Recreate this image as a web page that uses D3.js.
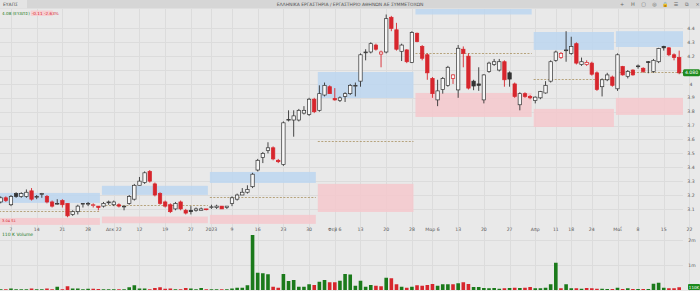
<!DOCTYPE html>
<html><head><meta charset="utf-8">
<script src="https://cdn.jsdelivr.net/npm/d3@7"></script>
<style>html,body{margin:0;padding:0;background:#e9e9e9;overflow:hidden}svg{display:block;font-family:"DejaVu Sans",sans-serif}</style>
</head><body><svg id="c" width="700" height="291"></svg>
<script>
// ---------- DATA ----------
const firstDay = "2022-11-03";
const lastAxisDay = "2023-05-22";
const holidays = ["2022-12-26","2023-01-06","2023-02-27","2023-04-07","2023-04-10","2023-04-14","2023-04-17","2023-05-01"];

const open  = [3.15,3.18,3.13,3.21,3.19,3.19,3.23,3.19,3.21,3.19,3.15,3.14,3.16,3.14,3.06,3.08,3.14,3.14,3.13,3.12,3.12,3.15,3.13,3.13,3.12,3.14,3.17,3.27,3.29,3.37,3.28,3.21,3.15,3.13,
3.10,3.15,3.09,3.09,3.09,3.09,3.10,3.11,3.11,3.12,3.11,3.14,3.17,3.20,3.22,3.26,3.38,3.47,3.52,3.54,3.45,3.42,3.74,3.74,3.74,3.79,3.78,3.89,3.81,3.92,3.98,3.895,3.88,3.91,
3.93,3.99,4.02,4.23,4.23,4.28,4.215,4.23,4.48,4.39,4.235,4.245,4.155,4.365,4.27,4.21,4.04,3.885,3.96,3.99,4.04,3.957,4.25,4.20,4.02,4.0,3.885,4.09,4.14,4.10,4.16,4.08,4.0,3.85,
3.93,3.91,3.88,3.90,3.935,4.02,4.17,4.19,4.24,4.22,4.29,4.14,4.14,4.15,4.08,3.98,4.03,4.05,3.965,4.125,4.055,4.10,4.13,4.113,4.16,4.09,4.16,4.27,4.26,4.21,4.19];
const high  = [3.19,3.19,3.20,3.22,3.22,3.24,3.25,3.20,3.215,3.20,3.16,3.17,3.17,3.14,3.09,3.13,3.14,3.15,3.14,3.12,3.15,3.16,3.16,3.14,3.12,3.20,3.28,3.33,3.37,3.38,3.29,3.22,3.16,3.14,
3.15,3.16,3.10,3.12,3.11,3.11,3.10,3.13,3.13,3.12,3.12,3.19,3.21,3.25,3.27,3.36,3.46,3.51,3.58,3.55,3.46,3.73,3.81,3.81,3.82,3.84,3.90,3.90,3.99,4.01,3.99,3.97,3.91,3.94,
4.00,4.01,4.22,4.25,4.30,4.29,4.24,4.50,4.49,4.44,4.29,4.25,4.38,4.37,4.28,4.22,4.05,4.03,4.05,4.13,4.07,4.28,4.27,4.22,4.03,4.12,4.07,4.16,4.18,4.18,4.17,4.09,4.01,3.94,
3.94,3.92,3.91,3.95,4.02,4.17,4.24,4.23,4.38,4.34,4.30,4.19,4.17,4.16,4.09,4.04,4.08,4.06,4.22,4.13,4.10,4.105,4.14,4.12,4.165,4.18,4.26,4.275,4.265,4.22,4.24];
const low   = [3.14,3.15,3.12,3.18,3.18,3.18,3.16,3.17,3.18,3.14,3.11,3.13,3.11,3.04,3.05,3.06,3.11,3.12,3.11,3.09,3.11,3.13,3.12,3.11,3.09,3.13,3.16,3.27,3.28,3.29,3.19,3.13,3.11,3.07,
3.09,3.09,3.06,3.06,3.08,3.09,3.09,3.10,3.10,3.10,3.10,3.12,3.16,3.20,3.21,3.25,3.37,3.43,3.50,3.45,3.43,3.41,3.73,3.62,3.73,3.78,3.77,3.79,3.80,3.91,3.93,3.88,3.87,3.87,
3.92,3.91,3.98,4.17,4.22,4.24,4.12,4.22,4.38,4.24,4.165,4.15,4.15,4.30,4.17,4.03,3.90,3.84,3.93,3.98,4.0,3.90,4.12,3.96,3.955,3.95,3.86,4.08,4.13,4.09,3.98,3.98,3.90,3.81,
3.90,3.89,3.86,3.89,3.93,4.01,4.16,4.18,4.16,4.21,4.14,4.13,4.13,4.06,3.95,3.91,4.02,3.98,3.95,4.06,4.04,4.06,4.11,4.08,4.077,4.08,4.15,4.24,4.20,4.17,4.07];
const close = [3.18,3.16,3.19,3.19,3.21,3.22,3.17,3.19,3.21,3.15,3.12,3.14,3.13,3.05,3.08,3.12,3.14,3.14,3.13,3.11,3.14,3.15,3.15,3.12,3.12,3.19,3.27,3.30,3.36,3.30,3.20,3.14,3.12,3.08,
3.14,3.10,3.07,3.08,3.10,3.10,3.095,3.115,3.12,3.10,3.12,3.18,3.20,3.22,3.24,3.35,3.45,3.50,3.54,3.46,3.44,3.72,3.745,3.77,3.81,3.81,3.89,3.80,3.93,3.99,3.93,3.885,3.90,3.93,
3.99,3.99,4.21,4.23,4.29,4.25,4.23,4.47,4.40,4.25,4.28,4.16,4.37,4.305,4.185,4.08,3.93,3.95,4.04,4.12,4.065,4.257,4.22,3.97,3.985,3.99,4.065,4.15,4.16,4.16,4.03,4.035,3.91,3.93,
3.91,3.90,3.905,3.945,3.99,4.16,4.23,4.22,4.245,4.27,4.15,4.16,4.155,4.07,3.96,4.03,4.065,3.99,4.21,4.065,4.09,4.065,4.13,4.09,4.155,4.17,4.255,4.26,4.21,4.19,4.08];
// volume in thousands of shares
const volume = [30,30,60,30,30,30,60,30,30,60,30,130,30,150,60,60,30,50,50,40,30,30,30,30,30,110,190,60,60,30,80,110,50,60,
30,30,80,60,30,80,30,30,30,30,30,60,90,90,190,2200,690,670,630,130,90,640,360,400,130,130,230,200,330,400,310,310,370,640,
620,170,370,130,200,170,150,490,470,230,130,90,130,190,170,200,240,170,230,230,230,270,310,240,120,120,80,70,80,50,70,80,90,80,
90,120,70,70,90,230,1090,70,230,70,70,50,80,70,50,50,40,40,90,40,70,40,40,40,40,250,290,90,70,70,110];

const priceTicks = [3.1,3.2,3.3,3.4,3.5,3.6,3.7,3.8,3.9,4.0,4.1,4.2,4.3,4.4];
const volumeTicks = [1000,2000];
const volumeTickLabels = ["1m","2m"];
const dateTickDays = ["2022-11-07","2022-11-14","2022-11-21","2022-11-28","2022-12-05","2022-12-12","2022-12-19","2022-12-27","2023-01-02","2023-01-09","2023-01-16","2023-01-23","2023-01-30","2023-02-06","2023-02-13","2023-02-20","2023-02-28","2023-03-06","2023-03-13","2023-03-20","2023-03-27","2023-04-03","2023-04-11","2023-04-18","2023-04-24","2023-05-02","2023-05-08","2023-05-15","2023-05-22"];
const dateTickLabels = ["7","14","21","28","Δεκ 22","12","19","27","2023","9","16","23","30","Φεβ 6","13","20","28","Μαρ 6","13","20","27","Απρ","11","18","24","Μαΐ","8","15","22"];

// monthly zones
const zoneFrom = ["2022-11-03","2022-12-01","2023-01-02","2023-02-01","2023-03-01","2023-04-03","2023-05-02"];
const zoneTo   = ["2022-11-30","2022-12-30","2023-01-31","2023-02-28","2023-03-31","2023-04-28","2023-05-19"];
const zoneUpperHi = [3.215,3.266,3.366,4.086,4.56,4.374,4.38];
const zoneUpperLo = [3.143,3.201,3.287,3.899,4.50,4.245,4.266];
const zoneLowerHi = [3.035,3.045,3.057,3.28,3.935,3.82,3.90];
const zoneLowerLo = [2.985,2.997,2.992,3.078,3.762,3.69,3.777];
const zonePivot   = [3.086,3.129,3.186,3.59,4.223,4.036,4.086];

// ---------- BUILD CATEGORIES ----------
const fmt = d3.utcFormat("%Y-%m-%d");
const axisDays = d3.utcDays(new Date(firstDay+"T00:00Z"), d3.utcDay.offset(new Date(lastAxisDay+"T00:00Z"),1))
  .filter(d => d.getUTCDay()!==0 && d.getUTCDay()!==6 && !holidays.includes(fmt(d))).map(fmt);
const days = axisDays.slice(0, close.length);
const data = days.map((d,i)=>({d, o:open[i], h:high[i], l:low[i], c:close[i], v:volume[i], pc: i?close[i-1]:open[i]}));

// ---------- LAYOUT ----------
const W=700,H=291, plotR=683, pTop=9, pBot=225, vTop=232, vBot=290;
const svg=d3.select("#c");
const x=d3.scalePoint().domain(axisDays).range([0.7, 0.7+(axisDays.length-1)*5.14]);
const step=x.step();
const y=d3.scaleLinear().domain([3.1,4.4]).range([208.9,28.4]);
const yv=d3.scaleLinear().domain([0,2000]).range([vBot,vBot-50]);
const last=data[data.length-1];

svg.append("rect").attr("width",W).attr("height",H).attr("fill","#e9e9e9");
svg.append("defs").append("clipPath").attr("id","pc").append("rect").attr("x",0).attr("y",pTop).attr("width",plotR).attr("height",pBot-pTop);

// grid
const g=svg.append("g");
g.selectAll("line.h").data(priceTicks).join("line").attr("x1",0).attr("x2",plotR).attr("y1",d=>Math.round(y(d))+0.5).attr("y2",d=>Math.round(y(d))+0.5).attr("stroke","#dcdcdc").attr("stroke-width",1);
g.selectAll("line.v").data(dateTickDays).join("line").attr("x1",d=>Math.round(x(d))+0.5).attr("x2",d=>Math.round(x(d))+0.5).attr("y1",pTop).attr("y2",H).attr("stroke","#dcdcdc");
g.selectAll("line.vv").data(volumeTicks).join("line").attr("x1",0).attr("x2",plotR).attr("y1",d=>Math.round(yv(d))+0.5).attr("y2",d=>Math.round(yv(d))+0.5).attr("stroke","#dcdcdc");

// zones
const zg=svg.append("g").attr("clip-path","url(#pc)");
const zi=zoneFrom.map((f,i)=>i);
const zx0=i=>x(zoneFrom[i])-step/2+1, zx1=i=>x(zoneTo[i])+step/2-1;
zg.selectAll("rect.up").data(zi).join("rect").attr("x",zx0).attr("width",i=>zx1(i)-zx0(i))
  .attr("y",i=>y(zoneUpperHi[i])).attr("height",i=>y(zoneUpperLo[i])-y(zoneUpperHi[i])).attr("fill","#bcd6f0").attr("opacity",0.85);
zg.selectAll("rect.dn").data(zi).join("rect").attr("x",zx0).attr("width",i=>zx1(i)-zx0(i))
  .attr("y",i=>y(zoneLowerHi[i])).attr("height",i=>y(zoneLowerLo[i])-y(zoneLowerHi[i])).attr("fill","#f4c8cc").attr("opacity",0.85);
zg.selectAll("line.pv").data(zi).join("line").attr("x1",zx0).attr("x2",zx1)
  .attr("y1",i=>Math.round(y(zonePivot[i]))+0.5).attr("y2",i=>Math.round(y(zonePivot[i]))+0.5)
  .attr("stroke","#a89060").attr("stroke-width",0.8).attr("stroke-dasharray","2,1.5");
zg.append("text").attr("x",2).attr("y",y(zoneLowerHi[0])+4.5).attr("font-size",3.6).attr("fill","#d7262d").text(zoneLowerHi[0].toFixed(2)+" S1");

// candles
const red="#d7262d", dark="#333";
const cg=svg.append("g").attr("clip-path","url(#pc)");
const bw=3.4;
const col=d=>d.c<d.pc?red:dark;
cg.selectAll("line.w").data(data).join("line").attr("x1",d=>x(d.d)).attr("x2",d=>x(d.d))
  .attr("y1",d=>y(d.h)).attr("y2",d=>y(d.l)).attr("stroke",col).attr("stroke-width",0.9);
cg.selectAll("rect.b").data(data).join("rect")
  .attr("x",d=>x(d.d)-bw/2).attr("width",bw)
  .attr("y",d=>y(Math.max(d.o,d.c))).attr("height",d=>Math.max(0.8,Math.abs(y(d.o)-y(d.c))))
  .attr("fill",d=>d.c>=d.o?"#f7f7f7":col(d)).attr("stroke",col).attr("stroke-width",0.7);

// volume
const vg=svg.append("g");
vg.selectAll("rect").data(data).join("rect").attr("x",d=>x(d.d)-1.8).attr("width",3.6)
  .attr("y",d=>yv(d.v)).attr("height",d=>vBot-yv(d.v)).attr("fill",d=>d.c>=d.pc?"#1b7a1b":"#d7262d");

// axes text (hide price tick hidden by the last-price tag)
const t=svg.append("g").attr("font-size",4.6).attr("fill","#555");
t.selectAll("text.p").data(priceTicks.filter(p=>Math.abs(y(p)-y(last.c))>5)).join("text").attr("x",691).attr("y",d=>y(d)+1.6).attr("text-anchor","middle").text(d=>d3.format(".1f")(d).replace(".0",""));
t.selectAll("text.d").data(dateTickDays).join("text").attr("x",d=>x(d)).attr("y",230.5).attr("text-anchor","middle").text((d,i)=>dateTickLabels[i]);
t.selectAll("text.v").data(volumeTicks).join("text").attr("x",692).attr("y",d=>yv(d)+1.6).attr("text-anchor","middle").text((d,i)=>volumeTickLabels[i]);

// last price tag
svg.append("line").attr("x1",x(last.d)).attr("x2",plotR).attr("y1",y(last.c)).attr("y2",y(last.c)).attr("stroke","#1b7a1b").attr("stroke-width",0.6).attr("stroke-dasharray","1.5,1");
svg.append("rect").attr("x",683).attr("y",y(last.c)-3.5).attr("width",17).attr("height",7).attr("rx",1.5).attr("fill","#1e8a1e");
svg.append("text").attr("x",691.5).attr("y",y(last.c)+1.6).attr("text-anchor","middle").attr("font-size",4.6).attr("fill","#fff").text(last.c.toFixed(3));
svg.append("rect").attr("x",688).attr("y",284).attr("width",12).attr("height",6).attr("rx",1).attr("fill","#1e8a1e");
svg.append("text").attr("x",694).attr("y",288.7).attr("text-anchor","middle").attr("font-size",4).attr("fill","#fff").text(last.v+"K");

// header
svg.append("rect").attr("x",0).attr("y",0).attr("width",W).attr("height",8.5).attr("fill","#d6d6d6");
svg.append("rect").attr("x",0).attr("y",0).attr("width",27).attr("height",8.5).attr("fill","#e4e4e4");
svg.append("text").attr("x",3).attr("y",6).attr("font-size",4.5).attr("fill","#555").text("ΕΥΑΠΣ");
svg.append("text").attr("x",350).attr("y",6).attr("font-size",4.5).attr("fill","#555").attr("text-anchor","middle").text("ΕΛΛΗΝΙΚΑ ΕΡΓΑΣΤΗΡΙΑ / ΕΡΓΑΣΤΗΡΙΟ ΑΘΗΝΩΝ ΑΕ ΣΥΜΜΕΤΟΧΩΝ");
const icons=["+","H","▢","◎","🔒","☰","⧉","×"];
const ig=svg.append("g").attr("font-size",5).attr("fill","#666").attr("text-anchor","middle");
ig.selectAll("text").data(icons).join("text").attr("x",(d,i)=>622+i*10.8).attr("y",6.3).text(d=>d);
const qt=svg.append("text").attr("x",2).attr("y",14.5).attr("font-size",4.2).attr("fill","#1b7a1b").text(last.c.toFixed(2)+" (ΕΥΑΠΣ)");
const qw=qt.node().getComputedTextLength();
const chg=last.c-last.pc;
svg.append("rect").attr("x",2+qw+1).attr("y",10.5).attr("width",22).attr("height",5.5).attr("fill","#f6cfd2");
svg.append("text").attr("x",2+qw+2).attr("y",14.5).attr("font-size",4.2).attr("fill",red).text(chg.toFixed(2)+" "+(chg/last.pc*100).toFixed(2)+"%");
svg.append("text").attr("x",2).attr("y",236).attr("font-size",4.5).attr("fill","#1b7a1b").text(last.v+" K Volume");
</script></body></html>
